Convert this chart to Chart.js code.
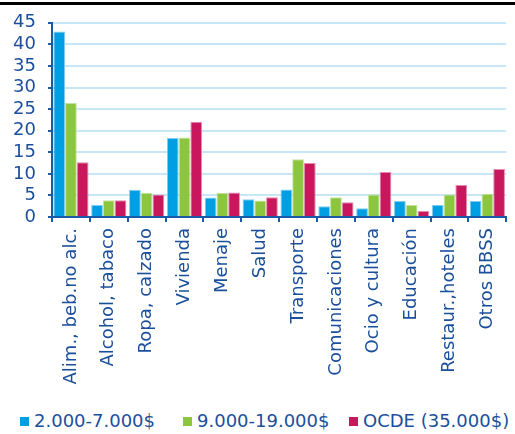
<!DOCTYPE html>
<html>
<head>
<meta charset="utf-8">
<script src="https://cdn.jsdelivr.net/npm/chart.js@4"></script>
<style>
  html, body { margin: 0; padding: 0; background: #fff; }
  #wrap { position: relative; width: 515px; height: 434px; overflow: hidden; }
  #topline { position: absolute; left: 0; top: 2px; width: 515px; height: 3px; background: #000; }
  #c { position: absolute; left: 0; top: 0; }
  #legend { position: absolute; left: 0; top: 408px; width: 515px; height: 26px; white-space: nowrap;
            font-family: "DejaVu Sans", sans-serif; font-size: 18px; color: #1b4f9c; }
  .item { position: absolute; top: 0; line-height: 26px; }
  .box { display: inline-block; width: 9px; height: 9px; margin-right: 5px; vertical-align: 1px; }
</style>
</head>
<body>
<div id="wrap">
  <canvas id="c" width="515" height="400"></canvas>
  <div id="topline"></div>
  <div id="legend"></div>
</div>
<script>
const categories = ["Alim., beb.no alc.", "Alcohol, tabaco", "Ropa, calzado", "Vivienda", "Menaje", "Salud",
  "Transporte", "Comunicaciones", "Ocio y cultura", "Educación", "Restaur.,hoteles", "Otros BBSS"];
const seriesNames = ["2.000-7.000$", "9.000-19.000$", "OCDE (35.000$)"];
const lowIncome = [43.0, 2.8, 6.3, 18.3, 4.5, 4.1, 6.4, 2.5, 2.0, 3.7, 2.8, 3.7];
const midIncome = [26.4, 3.9, 5.6, 18.4, 5.6, 3.8, 13.4, 4.6, 5.2, 2.8, 5.2, 5.4];
const oecd = [12.7, 3.9, 5.2, 22.1, 5.7, 4.6, 12.5, 3.4, 10.4, 1.4, 7.4, 11.1];
const yTicks = [0, 5, 10, 15, 20, 25, 30, 35, 40, 45];

const colors = ["#009fe3", "#8cc63f", "#c8175d"];
const borders = ["#7fcdf0", "#c3e29d", "#e48bae"];
const textColor = "#1b4f9c";
const axisColor = "#1a5aa6";

const data = {
  labels: categories,
  datasets: [lowIncome, midIncome, oecd].map((vals, i) => ({
    label: seriesNames[i],
    data: vals,
    backgroundColor: colors[i],
    borderColor: borders[i],
    borderWidth: 1,
    barPercentage: 1.0,
    categoryPercentage: 0.93
  }))
};

new Chart(document.getElementById("c"), {
  type: "bar",
  data,
  options: {
    responsive: false,
    animation: false,
    layout: { padding: { top: 15, right: 1, left: 0, bottom: 0 } },
    plugins: { legend: { display: false }, tooltip: { enabled: false } },
    scales: {
      x: {
        afterFit: (s) => { s.height = 183; },
        grid: { drawOnChartArea: false, drawTicks: true, tickLength: 5, tickColor: axisColor, lineWidth: 2 },
        border: { color: axisColor, width: 2 },
        ticks: { color: textColor, font: { family: "DejaVu Sans", size: 18 }, maxRotation: 90, minRotation: 90, padding: 6, autoSkip: false }
      },
      y: {
        min: 0, max: 45,
        afterFit: (s) => { s.width = 52; },
        afterBuildTicks: (s) => { s.ticks = yTicks.map(v => ({ value: v })); },
        grid: { color: "#c6e7f6", lineWidth: 2, tickColor: axisColor, tickLength: 4, drawTicks: true },
        border: { color: axisColor, width: 2 },
        ticks: { color: textColor, font: { family: "DejaVu Sans", size: 18 }, padding: 12, autoSkip: false }
      }
    }
  }
});

const lg = document.getElementById("legend");
const lefts = [20, 183, 349];
seriesNames.forEach((n, i) => {
  const it = document.createElement("span");
  it.className = "item";
  it.style.left = lefts[i] + "px";
  it.innerHTML = '<span class="box" style="background:' + colors[i] + '"></span>' + n;
  lg.appendChild(it);
});
</script>
</body>
</html>
